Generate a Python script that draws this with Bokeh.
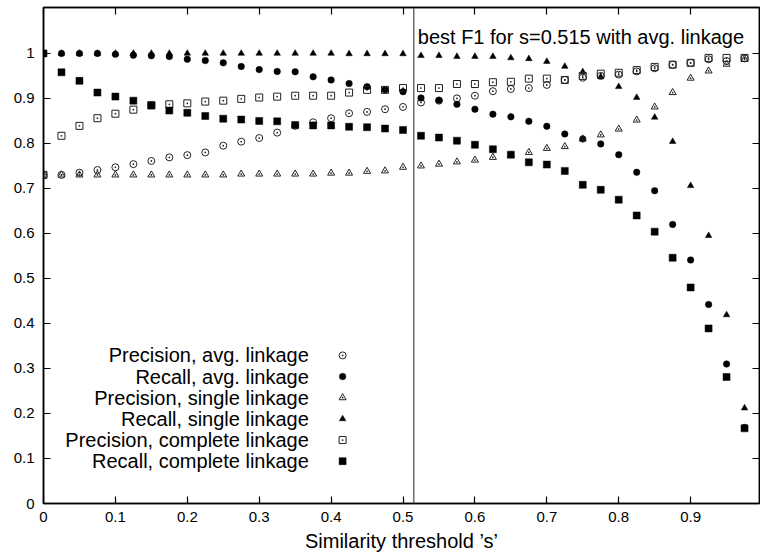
from bokeh.plotting import figure
from bokeh.models import Range1d, LinearAxis, FixedTicker, NumeralTickFormatter, Span, Label
from bokeh.embed import file_html
from bokeh.resources import INLINE

# ---- data -----------------------------------------------------------------
thresholds = [0.0, 0.025, 0.05, 0.075, 0.1, 0.125, 0.15, 0.175, 0.2, 0.225,
              0.25, 0.275, 0.3, 0.325, 0.35, 0.375, 0.4, 0.425, 0.45, 0.475,
              0.5, 0.525, 0.55, 0.575, 0.6, 0.625, 0.65, 0.675, 0.7, 0.725,
              0.75, 0.775, 0.8, 0.825, 0.85, 0.875, 0.9, 0.925, 0.95, 0.975]

precision_avg = [0.730, 0.730, 0.735, 0.741, 0.747, 0.754, 0.761, 0.769, 0.774, 0.780,
                 0.795, 0.804, 0.812, 0.824, 0.839, 0.847, 0.856, 0.867, 0.870, 0.876,
                 0.881, 0.891, 0.895, 0.900, 0.906, 0.916, 0.921, 0.923, 0.930, 0.941,
                 0.946, 0.950, 0.953, 0.960, 0.967, 0.975, 0.979, 0.987, 0.983, 0.989]
recall_avg = [1.000, 1.000, 1.000, 1.000, 0.998, 0.996, 0.995, 0.993, 0.987, 0.984,
              0.979, 0.971, 0.964, 0.960, 0.959, 0.948, 0.941, 0.933, 0.926, 0.919,
              0.915, 0.901, 0.896, 0.887, 0.876, 0.865, 0.859, 0.849, 0.838, 0.821,
              0.810, 0.799, 0.775, 0.736, 0.695, 0.620, 0.541, 0.442, 0.310, 0.169]
precision_single = [0.730, 0.730, 0.730, 0.730, 0.730, 0.730, 0.730, 0.730, 0.730, 0.730,
                    0.730, 0.732, 0.732, 0.732, 0.732, 0.732, 0.734, 0.734, 0.738, 0.739,
                    0.747, 0.750, 0.754, 0.759, 0.763, 0.769, 0.774, 0.780, 0.789, 0.793,
                    0.810, 0.819, 0.832, 0.852, 0.881, 0.913, 0.945, 0.961, 0.976, 0.987]
recall_single = [1.000, 1.000, 1.000, 1.000, 1.000, 1.000, 1.000, 1.000, 1.000, 1.000,
                 1.000, 1.000, 1.000, 1.000, 1.000, 1.000, 1.000, 0.999, 0.999, 0.999,
                 0.999, 0.995, 0.995, 0.993, 0.993, 0.993, 0.990, 0.988, 0.982, 0.971,
                 0.959, 0.948, 0.926, 0.902, 0.858, 0.804, 0.706, 0.595, 0.419, 0.212]
precision_complete = [0.730, 0.817, 0.839, 0.856, 0.866, 0.875, 0.885, 0.887, 0.889, 0.893,
                      0.895, 0.899, 0.902, 0.904, 0.906, 0.906, 0.906, 0.913, 0.919, 0.919,
                      0.923, 0.923, 0.923, 0.932, 0.932, 0.936, 0.937, 0.944, 0.944, 0.941,
                      0.950, 0.955, 0.957, 0.963, 0.970, 0.975, 0.979, 0.990, 0.990, 0.990]
recall_complete = [1.000, 0.958, 0.939, 0.913, 0.904, 0.895, 0.884, 0.873, 0.868, 0.861,
                   0.855, 0.853, 0.850, 0.849, 0.841, 0.840, 0.840, 0.837, 0.836, 0.833,
                   0.830, 0.817, 0.813, 0.806, 0.797, 0.787, 0.775, 0.758, 0.753, 0.739,
                   0.708, 0.697, 0.675, 0.640, 0.604, 0.546, 0.480, 0.389, 0.281, 0.167]

series_labels = ["Precision, avg. linkage", "Recall, avg. linkage",
                 "Precision, single linkage", "Recall, single linkage",
                 "Precision, complete linkage", "Recall, complete linkage"]
x_ticks = [0, 0.1, 0.2, 0.3, 0.4, 0.5, 0.6, 0.7, 0.8, 0.9]
y_ticks = [0, 0.1, 0.2, 0.3, 0.4, 0.5, 0.6, 0.7, 0.8, 0.9, 1]
best_s = 0.515
best_text = "best F1 for s=0.515 with avg. linkage"
x_title = "Similarity threshold \u2019s\u2019"

# ---- styles ---------------------------------------------------------------
FONT = "Liberation Sans"
open_style = dict(line_color="#222222", fill_alpha=0, line_width=1)
solid_style = dict(line_color="black", fill_color="black", line_width=0.5)
styles = [
    dict(marker="circle_dot", size=7, **open_style),
    dict(marker="circle", size=6.5, **solid_style),
    dict(marker="triangle_dot", size=7, **open_style),
    dict(marker="triangle", size=6.5, **solid_style),
    dict(marker="square_dot", size=7, **open_style),
    dict(marker="square", size=7, **solid_style),
]
series = [precision_avg, recall_avg, precision_single, recall_single,
          precision_complete, recall_complete]

p = figure(width=760, height=556, output_backend="svg", toolbar_location=None,
           x_range=Range1d(0, 0.9958), y_range=Range1d(0, 1.102),
           min_border_left=43, min_border_right=1, min_border_top=7,
           min_border_bottom=53)
p.grid.visible = False
p.outline_line_color = "black"
p.outline_line_width = 1.5
p.background_fill_color = "white"
p.border_fill_color = "white"


def style_axis(ax, ticks, labels=True):
    ax.ticker = FixedTicker(ticks=ticks)
    ax.major_tick_in = 7
    ax.major_tick_out = 0
    ax.minor_tick_line_color = None
    ax.axis_line_width = 1.5
    ax.major_tick_line_width = 1.2
    ax.axis_line_color = "black"
    ax.major_tick_line_color = "black"
    if labels:
        ax.formatter = NumeralTickFormatter(format="0.[0]")
        ax.major_label_text_font = FONT
        ax.major_label_text_font_size = "15px"
        ax.major_label_text_color = "black"
    else:
        ax.major_label_text_font_size = "0px"
        ax.major_label_standoff = 0
        ax.major_label_overrides = {t: "" for t in ticks}


style_axis(p.xaxis[0], x_ticks)
style_axis(p.yaxis[0], y_ticks)
p.xaxis.major_label_standoff = 8
p.yaxis.major_label_standoff = 9
p.xaxis.axis_label = x_title
p.xaxis.axis_label_text_font = FONT
p.xaxis.axis_label_text_font_size = "20px"
p.xaxis.axis_label_text_font_style = "normal"
p.xaxis.axis_label_text_color = "black"
p.xaxis.axis_label_standoff = 5

top_axis = LinearAxis()
style_axis(top_axis, x_ticks, labels=False)
p.add_layout(top_axis, "above")
right_axis = LinearAxis()
style_axis(right_axis, y_ticks, labels=False)
p.add_layout(right_axis, "right")

for ys, st in zip(series, styles):
    p.scatter(thresholds, ys, **st)

p.add_layout(Span(location=best_s, dimension="height", line_color="#555555",
                  line_width=1.3))
p.add_layout(Label(x=best_s, y=1.036, x_offset=4, text=best_text,
                   text_font=FONT, text_font_size="20px",
                   text_baseline="alphabetic", text_color="black"))

# ---- legend (text right-aligned, sample marker on the right) -------------
legend_text_x = 0.369
legend_mark_x = 0.416
legend_top_y = 0.329
legend_step = 0.047
for k, (lab, st) in enumerate(zip(series_labels, styles)):
    yy = legend_top_y - k * legend_step
    p.add_layout(Label(x=legend_text_x, y=yy, text=lab, text_font=FONT,
                       text_font_size="20px", text_align="right",
                       text_baseline="middle", text_color="black"))
    p.scatter([legend_mark_x], [yy], **st)

open("out.html", "w").write(file_html(p, INLINE))
